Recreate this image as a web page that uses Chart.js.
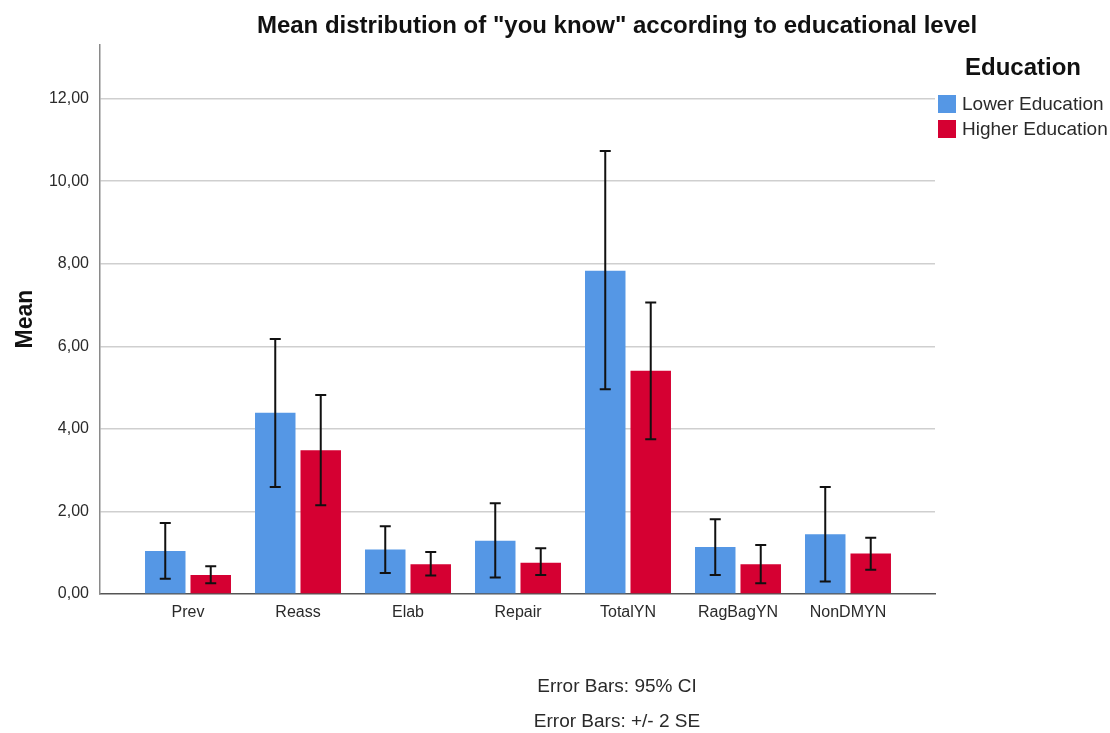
<!DOCTYPE html>
<html>
<head>
<meta charset="utf-8">
<script src="https://cdn.jsdelivr.net/npm/chart.js@4.4.1/dist/chart.umd.min.js"></script>
<style>
  html, body { margin: 0; padding: 0; background: #ffffff; }
  #wrap { width: 1110px; height: 733px; position: relative; }
</style>
</head>
<body>
<div id="wrap"><canvas id="chart" width="1110" height="733"></canvas></div>
<script>
// Categories and group means with their error bar bounds
const categories = ['Prev', 'Reass', 'Elab', 'Repair', 'TotalYN', 'RagBagYN', 'NonDMYN'];
const lowerMeans = [1.04, 4.39, 1.08, 1.29, 7.83, 1.14, 1.45];
const lowerLow   = [0.37, 2.59, 0.51, 0.40, 4.96, 0.46, 0.30];
const lowerHigh  = [1.72, 6.18, 1.64, 2.20, 10.73, 1.81, 2.59];
const higherMeans = [0.46, 3.48, 0.72, 0.76, 5.41, 0.72, 0.98];
const higherLow   = [0.26, 2.15, 0.45, 0.46, 3.75, 0.26, 0.59];
const higherHigh  = [0.67, 4.82, 1.02, 1.11, 7.06, 1.19, 1.36];
const yTickValues = [0, 2, 4, 6, 8, 10, 12];
const seriesNames = ['Lower Education', 'Higher Education'];
const chartTitle = 'Mean distribution of "you know" according to educational level';
const footnotes = ['Error Bars: 95% CI', 'Error Bars: +/- 2 SE'];

const FONT = "'Liberation Sans', Arial, sans-serif";
const BLUE = '#5597e5';
const RED = '#d50032';

const toPoints = arr => arr.map((v, i) => ({ x: i, y: v }));
const fmt = v => v.toFixed(2).replace('.', ',');

// Error bars drawn at each bar's centre from the low/high bounds
const errorBars = {
  id: 'errorBars',
  afterDatasetsDraw(chart) {
    const { ctx } = chart;
    const y = chart.scales.y;
    const bounds = [[lowerLow, lowerHigh], [higherLow, higherHigh]];
    ctx.save();
    ctx.strokeStyle = '#111111';
    ctx.lineWidth = 2;
    chart.data.datasets.forEach((ds, di) => {
      const meta = chart.getDatasetMeta(di);
      meta.data.forEach((bar, i) => {
        const x = bar.x;
        const yl = y.getPixelForValue(bounds[di][0][i]);
        const yh = y.getPixelForValue(bounds[di][1][i]);
        ctx.beginPath();
        ctx.moveTo(x, yl); ctx.lineTo(x, yh);
        ctx.moveTo(x - 5.5, yl); ctx.lineTo(x + 5.5, yl);
        ctx.moveTo(x - 5.5, yh); ctx.lineTo(x + 5.5, yh);
        ctx.stroke();
      });
    });
    ctx.restore();
  }
};

// Title, axis title, legend block and footnotes
const annotations = {
  id: 'annotations',
  afterDraw(chart) {
    const { ctx } = chart;
    ctx.save();
    ctx.fillStyle = '#111111';
    ctx.textBaseline = 'middle';
    ctx.textAlign = 'center';
    ctx.font = 'bold 24px ' + FONT;
    ctx.fillText(chartTitle, 617, 26);

    ctx.save();
    ctx.translate(26, 319);
    ctx.rotate(-Math.PI / 2);
    ctx.font = 'bold 23px ' + FONT;
    ctx.fillText('Mean', 0, 0);
    ctx.restore();

    ctx.textAlign = 'left';
    ctx.font = 'bold 24px ' + FONT;
    ctx.fillText('Education', 965, 68);
    ctx.font = '19px ' + FONT;
    const colors = [BLUE, RED];
    seriesNames.forEach((name, i) => {
      const cy = 104 + i * 25;
      ctx.fillStyle = colors[i];
      ctx.fillRect(938, cy - 9, 18, 18);
      ctx.fillStyle = '#2a2a2a';
      ctx.fillText(name, 962, cy + 1);
    });

    ctx.textAlign = 'center';
    ctx.font = '19px ' + FONT;
    ctx.fillStyle = '#2a2a2a';
    ctx.fillText(footnotes[0], 617, 687);
    ctx.fillText(footnotes[1], 617, 722);
    ctx.restore();
  }
};

new Chart(document.getElementById('chart'), {
  type: 'bar',
  data: {
    datasets: [
      { label: seriesNames[0], data: toPoints(lowerMeans), backgroundColor: BLUE },
      { label: seriesNames[1], data: toPoints(higherMeans), backgroundColor: RED }
    ]
  },
  options: {
    responsive: false,
    animation: false,
    events: [],
    categoryPercentage: 0.827,
    barPercentage: 0.89,
    layout: { padding: { left: 0, right: 175, top: 45, bottom: 0 } },
    plugins: { legend: { display: false }, tooltip: { enabled: false }, title: { display: false } },
    scales: {
      x: {
        type: 'linear',
        offset: false,
        min: -0.8,
        max: 6.791,
        afterBuildTicks: axis => { axis.ticks = categories.map((_, i) => ({ value: i })); },
        afterFit: axis => { axis.height = 139; },
        grid: { display: false, drawTicks: false, offset: false },
        border: { display: true, color: '#555555', width: 1.5 },
        ticks: {
          padding: 9,
          maxRotation: 0,
          autoSkip: false,
          color: '#2a2a2a',
          font: { family: FONT, size: 16 },
          callback: v => categories[v] ?? ''
        }
      },
      y: {
        min: 0,
        max: 13.3,
        afterBuildTicks: axis => { axis.ticks = yTickValues.map(v => ({ value: v })); },
        afterFit: axis => { axis.width = 100; },
        grid: {
          drawTicks: false,
          lineWidth: 1.5,
          color: c => (c.tick && c.tick.value === 0) ? 'rgba(0,0,0,0)' : '#cfcfcf'
        },
        border: { display: true, color: '#8a8a8a', width: 1.5 },
        ticks: {
          padding: 11,
          color: '#2a2a2a',
          font: { family: FONT, size: 16 },
          callback: v => fmt(v)
        }
      }
    }
  },
  plugins: [errorBars, annotations]
});
</script>
</body>
</html>
